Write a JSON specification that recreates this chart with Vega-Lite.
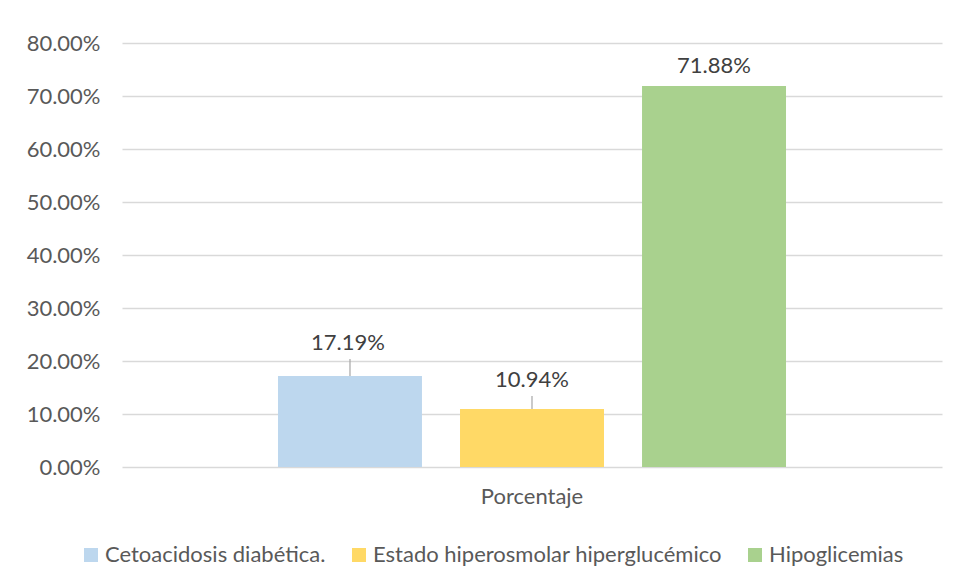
{
  "$schema": "https://vega.github.io/schema/vega-lite/v6.json",
  "width": 820,
  "height": 424,
  "autosize": {"type": "none"},
  "padding": {"left": 122, "top": 43, "right": 17, "bottom": 117},
  "background": "white",
  "config": {"view": {"stroke": null}, "font": "Lato"},
  "data": {
    "values": [
      {"categoria": "Porcentaje", "serie": "Cetoacidosis diabética.", "valor": 0.1719},
      {"categoria": "Porcentaje", "serie": "Estado hiperosmolar hiperglucémico", "valor": 0.1094},
      {"categoria": "Porcentaje", "serie": "Hipoglicemias", "valor": 0.7188}
    ]
  },
  "encoding": {
    "x": {
      "field": "categoria",
      "type": "nominal",
      "scale": {"paddingInner": 0, "paddingOuter": 0},
      "axis": {"title": null, "domain": false, "ticks": false, "labelAngle": 0, "labelPadding": 19, "labelFontSize": 22, "labelColor": "#595959", "labelFont": "Lato"}
    },
    "xOffset": {
      "field": "serie",
      "type": "nominal",
      "sort": ["Cetoacidosis diabética.", "Estado hiperosmolar hiperglucémico", "Hipoglicemias"],
      "scale": {"paddingInner": 0.209, "paddingOuter": 0.857}
    },
    "y": {
      "field": "valor",
      "type": "quantitative",
      "scale": {"domain": [0, 0.8]},
      "axis": {"title": null, "values": [0, 0.1, 0.2, 0.3, 0.4, 0.5, 0.6, 0.7, 0.8], "format": ".2%", "domain": false, "ticks": false, "labelPadding": 22, "labelFontSize": 22, "labelColor": "#595959", "labelFont": "Lato", "gridColor": "#D9D9D9", "gridWidth": 1.3}
    }
  },
  "layer": [
    {
      "mark": {"type": "bar"},
      "encoding": {
        "color": {
          "field": "serie",
          "type": "nominal",
          "sort": ["Cetoacidosis diabética.", "Estado hiperosmolar hiperglucémico", "Hipoglicemias"],
          "scale": {"domain": ["Cetoacidosis diabética.", "Estado hiperosmolar hiperglucémico", "Hipoglicemias"], "range": ["#BDD7EE", "#FFD966", "#A9D18E"]},
          "legend": {"title": null, "orient": "none", "legendX": -42, "legendY": 501, "direction": "horizontal", "symbolType": "square", "symbolSize": 196, "symbolStrokeWidth": 0, "labelFontSize": 22, "labelFont": "Lato", "labelColor": "#595959", "labelOffset": 3, "columnPadding": 22, "labelLimit": 500}
        }
      }
    },
    {
      "transform": [{"filter": "datum.serie === 'Cetoacidosis diabética.'"}],
      "mark": {"type": "rule", "color": "#A6A6A6", "strokeWidth": 1.2, "y2Offset": -17},
      "encoding": {"y2": {"field": "valor"}}
    },
    {
      "transform": [{"filter": "datum.serie === 'Estado hiperosmolar hiperglucémico'"}],
      "mark": {"type": "rule", "color": "#A6A6A6", "strokeWidth": 1.2, "y2Offset": -13},
      "encoding": {"y2": {"field": "valor"}}
    },
    {
      "transform": [{"filter": "datum.serie === 'Cetoacidosis diabética.'"}],
      "mark": {"type": "text", "baseline": "middle", "dy": -33, "dx": -2, "fontSize": 22, "font": "Lato", "color": "#404040"},
      "encoding": {"text": {"field": "valor", "format": ".2%"}}
    },
    {
      "transform": [{"filter": "datum.serie === 'Estado hiperosmolar hiperglucémico'"}],
      "mark": {"type": "text", "baseline": "middle", "dy": -29, "fontSize": 22, "font": "Lato", "color": "#404040"},
      "encoding": {"text": {"field": "valor", "format": ".2%"}}
    },
    {
      "transform": [{"filter": "datum.serie === 'Hipoglicemias'"}],
      "mark": {"type": "text", "baseline": "middle", "dy": -20, "fontSize": 22, "font": "Lato", "color": "#404040"},
      "encoding": {"text": {"field": "valor", "format": ".2%"}}
    }
  ]
}
